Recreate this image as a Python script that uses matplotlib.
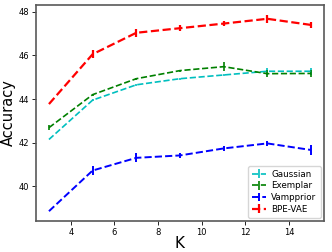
import numpy as np
import matplotlib
matplotlib.use("Agg")
import matplotlib.pyplot as plt

# K values and accuracies
K = [3, 5, 7, 9, 11, 13, 15]

gaussian = [42.15, 43.95, 44.65, 44.93, 45.10, 45.27, 45.27]
gaussian_err = [0.0, 0.05, 0.05, 0.05, 0.05, 0.15, 0.15]

exemplar = [42.69, 44.20, 44.93, 45.30, 45.48, 45.16, 45.17]
exemplar_err = [0.1, 0.05, 0.05, 0.05, 0.2, 0.15, 0.15]

vampprior = [38.87, 40.73, 41.31, 41.42, 41.74, 41.97, 41.67]
vampprior_err = [0.0, 0.2, 0.2, 0.1, 0.1, 0.1, 0.25]

bpe_vae = [43.77, 46.05, 47.03, 47.24, 47.45, 47.67, 47.39]
bpe_vae_err = [0.0, 0.18, 0.18, 0.15, 0.1, 0.18, 0.15]

fig = plt.figure(figsize=(3.32, 2.52), dpi=100)
ax = fig.add_axes([0.108, 0.123, 0.868, 0.857])

ax.errorbar(K, gaussian, yerr=gaussian_err, color='c', ls='--', lw=1.2, label='Gaussian')
ax.errorbar(K, exemplar, yerr=exemplar_err, color='g', ls='--', lw=1.2, label='Exemplar')
ax.errorbar(K, vampprior, yerr=vampprior_err, color='b', ls='--', lw=1.4, label='Vampprior')
ax.errorbar(K, bpe_vae, yerr=bpe_vae_err, color='r', ls='--', lw=1.6, label='BPE-VAE')

ax.set_xticks([4, 6, 8, 10, 12, 14])
ax.set_yticks([40, 42, 44, 46, 48])
ax.tick_params(labelsize=6, length=3, width=0.6, pad=2)
for s in ax.spines.values():
    s.set_color('0.35')
    s.set_linewidth(1.2)

ax.set_xlabel('K', fontsize=11)
ax.set_ylabel('Accuracy', fontsize=10.5)
ax.xaxis.set_label_coords(0.5, -0.07)
ax.yaxis.set_label_coords(-0.068, 0.5)
ax.legend(loc='lower right', fontsize=6.3, handlelength=1.6, labelspacing=0.3,
          borderpad=0.45, handletextpad=0.6, borderaxespad=0.4)

fig.savefig('out.png', dpi=100)
